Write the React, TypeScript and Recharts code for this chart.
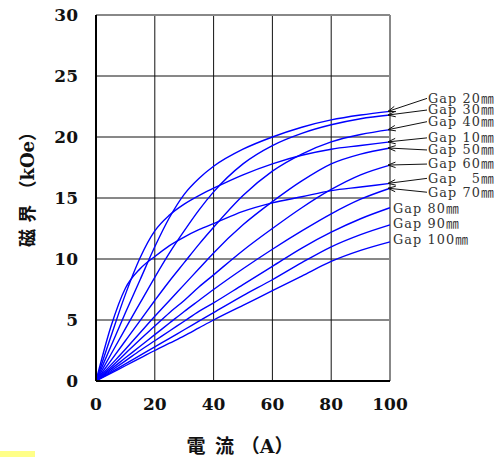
import React from 'react';
import { LineChart, Line, XAxis, YAxis, CartesianGrid, ReferenceLine, Label } from 'recharts';

// Current (A)
const currents = [0, 5, 10, 15, 20, 25, 30, 35, 40, 50, 60, 70, 80, 90, 100];

// Magnetic field (kOe) per pole gap
const gap5 = [0, 4.4, 7.6, 9.2, 10.2, 11.1, 11.8, 12.4, 12.9, 13.9, 14.6, 15.1, 15.6, 15.9, 16.2];
const gap10 = [0, 3.6, 7.1, 10.1, 12.3, 13.6, 14.5, 15.2, 15.8, 16.9, 17.8, 18.5, 19.0, 19.3, 19.6];
const gap20 = [0, 2.8, 5.6, 8.3, 11.0, 13.4, 15.3, 16.6, 17.6, 19.0, 20.0, 20.8, 21.4, 21.8, 22.1];
const gap30 = [0, 2.15, 4.3, 6.4, 8.5, 10.5, 12.3, 14.0, 15.5, 17.8, 19.3, 20.3, 21.0, 21.5, 21.8];
const gap40 = [0, 1.65, 3.3, 4.95, 6.6, 8.2, 9.7, 11.2, 12.6, 15.2, 17.2, 18.6, 19.6, 20.2, 20.6];
const gap50 = [0, 1.3, 2.6, 3.95, 5.3, 6.6, 7.9, 9.2, 10.5, 12.8, 14.7, 16.4, 17.8, 18.6, 19.1];
const gap60 = [0, 1.1, 2.25, 3.4, 4.5, 5.6, 6.6, 7.7, 8.7, 10.7, 12.5, 14.2, 15.7, 16.9, 17.7];
const gap70 = [0, 0.95, 1.9, 2.85, 3.8, 4.75, 5.7, 6.6, 7.5, 9.2, 10.8, 12.3, 13.7, 14.9, 15.8];
const gap80 = [0, 0.82, 1.65, 2.5, 3.3, 4.1, 4.9, 5.7, 6.4, 7.9, 9.4, 10.9, 12.2, 13.3, 14.2];
const gap90 = [0, 0.7, 1.4, 2.1, 2.8, 3.5, 4.2, 4.9, 5.6, 7.0, 8.3, 9.7, 11.0, 12.0, 12.8];
const gap100 = [0, 0.62, 1.25, 1.87, 2.5, 3.1, 3.7, 4.35, 5.0, 6.2, 7.4, 8.6, 9.8, 10.7, 11.4];

const xTicks = [0, 20, 40, 60, 80, 100];
const yTicks = [0, 5, 10, 15, 20, 25, 30];

const seriesKeys = ['g5', 'g10', 'g20', 'g30', 'g40', 'g50', 'g60', 'g70', 'g80', 'g90', 'g100'];
const seriesValues = [gap5, gap10, gap20, gap30, gap40, gap50, gap60, gap70, gap80, gap90, gap100];
const seriesLabels = ['Gap \u20075㎜', 'Gap 10㎜', 'Gap 20㎜', 'Gap 30㎜', 'Gap 40㎜', 'Gap 50㎜', 'Gap 60㎜', 'Gap 70㎜', 'Gap 80㎜', 'Gap 90㎜', 'Gap 100㎜'];

// annotation styling: vertical pixel offset of label from curve end, and whether an arrow is drawn
const labelOffsetPx = [-5, -4, -13, -5, -8, 2, -1, 4, 1, -1, -2];
const labelArrow = [true, true, true, true, true, true, true, true, false, false, false];

const data = currents.map((x, i) => {
  const row: Record<string, number> = { x };
  seriesKeys.forEach((k, s) => {
    row[k] = seriesValues[s][i];
  });
  return row;
});

const lastIndex = currents.length - 1;

function makeEndLabel(s: number) {
  return (props: any) => {
    const { x, y, index } = props;
    if (index !== lastIndex || x == null || y == null) return null;
    const arrow = labelArrow[s];
    const cy = y + labelOffsetPx[s];
    const tx = arrow ? x + 38 : x + 3;
    const text = (
      <text
        x={tx}
        y={cy + 4.4}
        fontFamily="'DejaVu Serif', 'Noto Sans CJK JP', serif"
        fontSize={12.8}
        letterSpacing={1.1}
        fill="#333"
      >
        {seriesLabels[s]}
      </text>
    );
    if (!arrow) return <g key={`lab-${s}`}>{text}</g>;
    const tipX = x - 2;
    const tipY = y;
    const sx = tx - 1;
    const sy = cy;
    const ang = Math.atan2(sy - tipY, sx - tipX);
    const len = 8;
    const spread = 0.35;
    const a1x = tipX + len * Math.cos(ang + spread);
    const a1y = tipY + len * Math.sin(ang + spread);
    const a2x = tipX + len * Math.cos(ang - spread);
    const a2y = tipY + len * Math.sin(ang - spread);
    return (
      <g key={`lab-${s}`}>
        <line x1={sx} y1={sy} x2={tipX} y2={tipY} stroke="#111" strokeWidth={1} />
        <path d={`M${a1x},${a1y} L${tipX},${tipY} L${a2x},${a2y}`} fill="none" stroke="#111" strokeWidth={1} />
        {text}
      </g>
    );
  };
}

const tickStyle = {
  fontFamily: "'DejaVu Serif', serif",
  fontSize: 17,
  fontWeight: 'bold' as const,
  fill: '#111',
};

export default function App() {
  return (
    <div style={{ position: 'absolute', left: 0, top: 0, width: 499, height: 457, background: '#fff' }}>
      <LineChart
        width={499}
        height={457}
        data={data}
        margin={{ top: 15, right: 109, left: 0, bottom: 0 }}
      >
        <CartesianGrid stroke="#111" strokeWidth={1} />
        <XAxis
          dataKey="x"
          type="number"
          domain={[0, 100]}
          ticks={xTicks}
          interval={0}
          height={76}
          tickLine={false}
          tickSize={0}
          tickMargin={17}
          axisLine={{ stroke: '#000', strokeWidth: 2 }}
          tick={tickStyle}
        >
          <Label
            content={() => (
              <text
                x={240}
                y={446}
                textAnchor="middle"
                dominantBaseline="central"
                fontFamily="'DejaVu Serif', 'Noto Sans CJK JP', serif"
                fontWeight="bold"
                fontSize={19}
                fill="#111"
              >
                {'電\u2002流 （A）'}
              </text>
            )}
          />
        </XAxis>
        <YAxis
          type="number"
          domain={[0, 30]}
          ticks={yTicks}
          interval={0}
          width={96}
          tickLine={false}
          tickSize={0}
          tickMargin={18}
          axisLine={{ stroke: '#000', strokeWidth: 2 }}
          tick={tickStyle}
        >
          <Label
            content={() => (
              <text
                x={27.5}
                y={185}
                textAnchor="middle"
                dominantBaseline="central"
                transform="rotate(-90, 27.5, 185)"
                fontFamily="'DejaVu Serif', 'Noto Sans CJK JP', serif"
                fontWeight="bold"
                fontSize={18}
                fill="#111"
              >
                磁 界 （kOe）
              </text>
            )}
          />
        </YAxis>
        <ReferenceLine y={30} stroke="#888" strokeWidth={2} />
        <ReferenceLine x={100} stroke="#888" strokeWidth={2} />
        {seriesKeys.map((k, s) => (
          <Line
            key={k}
            dataKey={k}
            type="monotone"
            stroke="#0000ff"
            strokeWidth={1.4}
            dot={false}
            activeDot={false}
            isAnimationActive={false}
            label={makeEndLabel(s)}
          />
        ))}
      </LineChart>
      <div style={{ position: 'absolute', left: 0, top: 451, width: 35, height: 6, background: '#ffff88' }} />
    </div>
  );
}
